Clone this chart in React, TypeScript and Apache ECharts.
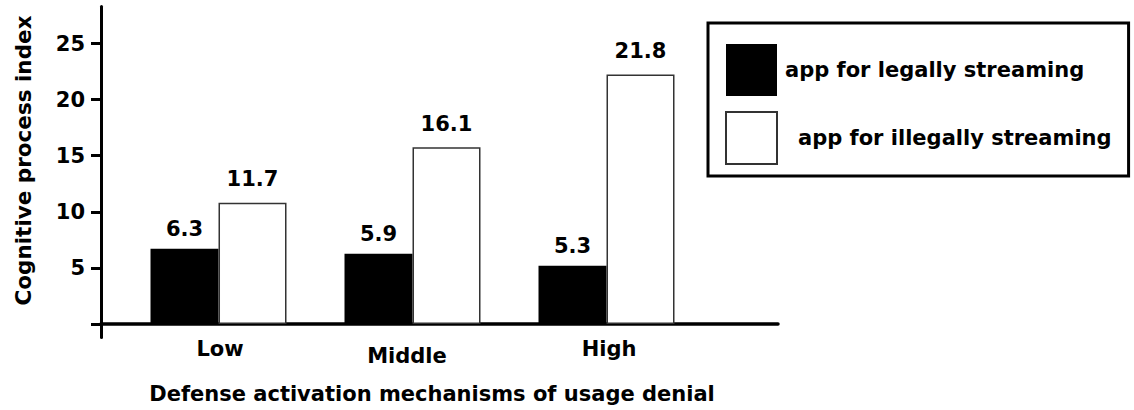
import React, { useEffect, useRef } from "react";
import * as echarts from "echarts";

const categories = ["Low", "Middle", "High"];
const categoryPositions = [0, 1, 2];
const seriesNames = ["app for legally streaming", "app for illegally streaming"];
// bar heights as drawn in the picture
const legalHeights = [6.7, 6.25, 5.2];
const illegalHeights = [10.8, 15.75, 22.25];
// value labels as printed in the picture
const legalLabels = ["6.3", "5.9", "5.3"];
const illegalLabels = ["11.7", "16.1", "21.8"];
const yTickValues = [0, 5, 10, 15, 20, 25];
const yLabelValues = [5, 10, 15, 20, 25];

const FONT = "DejaVu Sans";

export default function App() {
  const ref = useRef<HTMLDivElement>(null);
  useEffect(() => {
    if (!ref.current) return;
    const chart = echarts.init(ref.current, null, { renderer: "svg" });
    const txt = { fontFamily: FONT, fontWeight: "bold" as const, fontSize: 21, color: "#000" };
    chart.setOption({
      animation: false,
      backgroundColor: "#fff",
      grid: { left: 101, right: 356, top: 6.6, bottom: 72.6, containLabel: false },
      legend: {
        orient: "vertical",
        left: 708,
        top: 23,
        padding: [21, 17, 11, 17],
        borderColor: "#000",
        borderWidth: 3,
        borderRadius: 0,
        itemWidth: 51,
        itemHeight: 52,
        itemGap: 15,
        icon: "rect",
        data: seriesNames,
        formatter: (name: string) => (name === seriesNames[0] ? `{a|${name}}` : `{b|${name}}`),
        textStyle: {
          ...txt,
          rich: {
            a: { ...txt, padding: [0, 0, 0, 3] },
            b: { ...txt, padding: [0, 0, 0, 16] },
          },
        },
      },
      xAxis: {
        type: "value",
        min: -0.6057,
        max: 2.884,
        name: "Defense activation mechanisms of usage denial",
        nameLocation: "middle",
        nameGap: 46,
        nameTextStyle: { ...txt, padding: [0, 15, 0, 0] },
        axisLine: { onZero: true, lineStyle: { color: "#000", width: 3.5 } },
        axisTick: { show: false },
        splitLine: { show: false },
        axisLabel: {
          customValues: categoryPositions,
          margin: 1,
          formatter: (v: number) => {
            const i = Math.round(v);
            return `{c${i}|${categories[i] ?? ""}}`;
          },
          rich: {
            c0: { ...txt, padding: [0, 0, 0, 3] },
            c1: { ...txt, padding: [7, 11, 0, 0] },
            c2: { ...txt, padding: [0, 0, 0, 5] },
          },
        },
      },
      yAxis: {
        type: "value",
        min: -1.2,
        max: 28.3,
        name: "Cognitive process index",
        nameLocation: "middle",
        nameGap: 67,
        nameRotate: 90,
        nameTextStyle: { ...txt, fontSize: 21.5, padding: [0, 0, 0, 23] },
        axisLine: { show: true, onZero: false, lineStyle: { color: "#000", width: 3 } },
        axisTick: {
          show: true,
          length: 10,
          customValues: yTickValues,
          lineStyle: { color: "#000", width: 3 },
        },
        axisLabel: { ...txt, margin: 16, customValues: yLabelValues },
        splitLine: { show: false },
      },
      series: [
        {
          name: seriesNames[0],
          type: "bar",
          barWidth: 68,
          barGap: "0%",
          data: categoryPositions.map((p, i) => [p, legalHeights[i]]),
          itemStyle: { color: "#000", borderColor: "#000", borderWidth: 0 },
          label: {
            show: true,
            position: "top",
            distance: 9,
            ...txt,
            formatter: (p: any) => legalLabels[p.dataIndex],
          },
        },
        {
          name: seriesNames[1],
          type: "bar",
          barWidth: 68,
          barGap: "0%",
          data: categoryPositions.map((p, i) => [p, illegalHeights[i]]),
          itemStyle: { color: "#fff", borderColor: "#333", borderWidth: 1.5 },
          label: {
            show: true,
            position: "top",
            distance: 13,
            ...txt,
            formatter: (p: any) => illegalLabels[p.dataIndex],
          },
        },
      ],
    });
    return () => chart.dispose();
  }, []);
  return (
    <div
      ref={ref}
      style={{ position: "fixed", left: 0, top: 0, width: 1134, height: 410 }}
    />
  );
}
